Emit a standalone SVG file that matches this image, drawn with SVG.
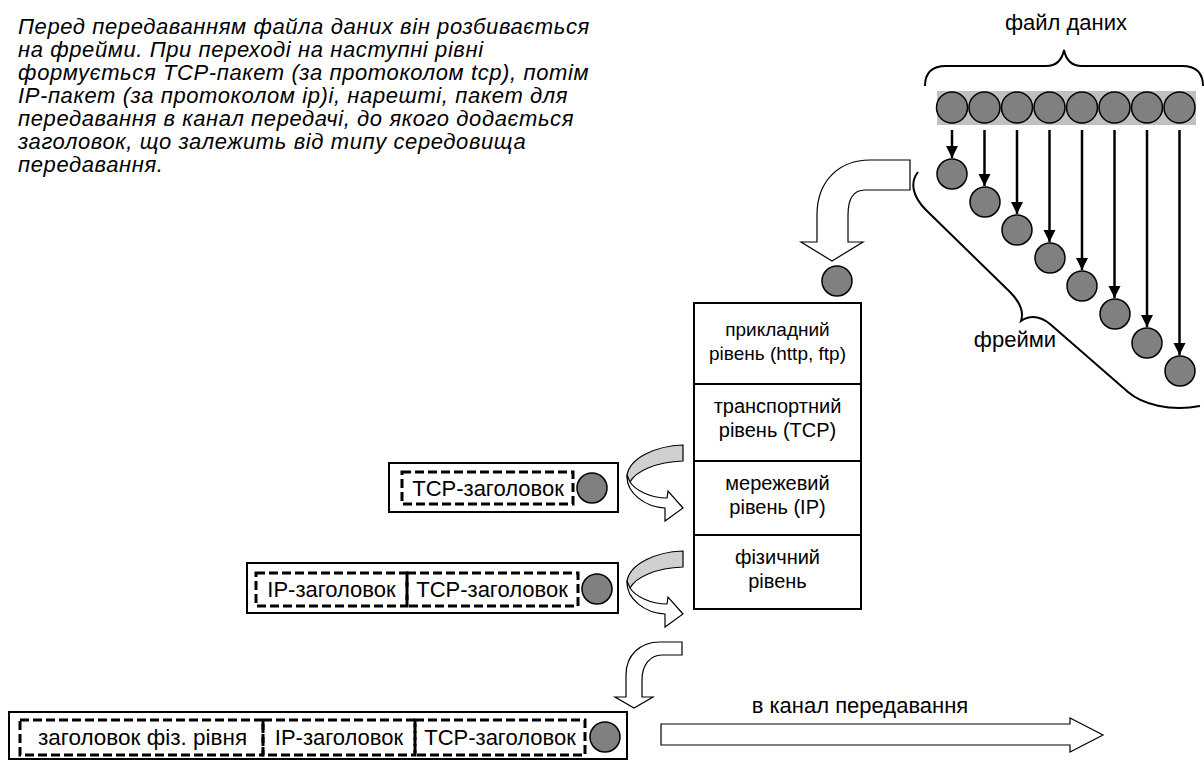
<svg xmlns="http://www.w3.org/2000/svg" width="1204" height="760" viewBox="0 0 1204 760">
  <style>
    text { font-family: "Liberation Sans", Arial, sans-serif; font-size: 22px; fill: #000; }
    .para { font-style: italic; letter-spacing: 0.6px; }
    .mid { text-anchor: middle; }
    .lyr { font-size: 20px; }
    .lyr-s { font-size: 19px; }
    .dot { fill: #808080; stroke: #000; stroke-width: 1.5; }
    .box { fill: #fff; stroke: #000; stroke-width: 2; }
    .dash { fill: none; stroke: #000; stroke-width: 3; stroke-dasharray: 9 4; }
    .layer { fill: #fff; stroke: #000; stroke-width: 2; }
    .brace { fill: none; stroke: #000; stroke-width: 2; }
    .flow { fill: #fff; stroke: #000; stroke-width: 1.2; stroke-linejoin: miter; }
    .back { fill: #d0d0d0; stroke: #000; stroke-width: 1.2; }
    .drop { stroke: #000; stroke-width: 2.5; fill: none; }
  </style>
  <defs>
    <marker id="head" markerUnits="userSpaceOnUse" markerWidth="14" markerHeight="14" refX="12" refY="6" orient="auto">
      <path d="M0,0 L12,6 L0,12 Z" fill="#000"/>
    </marker>
    <path id="twist-back" d="M683,445 C655,446 630,458 627,475 C627,478 628,480 630,482 C636,471 656,462 683,461 Z"/>
    <path id="twist-front" d="M627,475 C626,493 645,507 665,508 L665,521 L683,508 L668,491 L667,498 C650,498 635,490 630,482 Z"/>
  </defs>

  <!-- explanatory paragraph -->
  <g id="description">
    <text x="18" y="34" class="para">Перед передаванням файла даних він розбивається</text>
    <text x="18" y="57" class="para">на фрейми. При переході на наступні рівні</text>
    <text x="18" y="80" class="para">формується TCP-пакет (за протоколом tcp), потім</text>
    <text x="18" y="103" class="para">IP-пакет (за протоколом ip)і, нарешті, пакет для</text>
    <text x="18" y="126" class="para">передавання в канал передачі, до якого додається</text>
    <text x="18" y="149" class="para">заголовок, що залежить від типу середовища</text>
    <text x="18" y="172" class="para">передавання.</text>
  </g>

  <!-- the data file: a row of blocks under a brace -->
  <g id="data-file">
    <text x="1066" y="30" class="mid">файл даних</text>
    <path class="brace" d="M925,86 C925,72 932,66 946,66 L1046,66 C1056,66 1062,60 1064,50 C1066,60 1072,66 1082,66 L1182,66 C1196,66 1203,72 1203,86"/>
    <rect x="937" y="91" width="259" height="34" fill="#c0c0c0"/>
    <circle class="dot" cx="952" cy="107.5" r="15.5"/>
    <circle class="dot" cx="984.5" cy="107.5" r="15.5"/>
    <circle class="dot" cx="1017" cy="107.5" r="15.5"/>
    <circle class="dot" cx="1049.5" cy="107.5" r="15.5"/>
    <circle class="dot" cx="1082" cy="107.5" r="15.5"/>
    <circle class="dot" cx="1114.5" cy="107.5" r="15.5"/>
    <circle class="dot" cx="1147" cy="107.5" r="15.5"/>
    <circle class="dot" cx="1179.5" cy="107.5" r="15.5"/>
  </g>

  <!-- frames split off the file -->
  <g id="frames">
    <circle class="dot" cx="952" cy="174" r="15"/>
    <circle class="dot" cx="985" cy="202" r="15"/>
    <circle class="dot" cx="1017" cy="230" r="15"/>
    <circle class="dot" cx="1050" cy="258" r="15"/>
    <circle class="dot" cx="1082" cy="286" r="15"/>
    <circle class="dot" cx="1115" cy="314" r="15"/>
    <circle class="dot" cx="1147" cy="343" r="15"/>
    <circle class="dot" cx="1180" cy="371" r="15"/>
    <path class="brace" d="M918,172 C910,182 912,196 926,210 L1010,292 C1020,302 1024,312 1021,321 C1030,315 1040,316 1050,324 L1128,392 C1142,404 1170,412 1200,406"/>
    <text x="1015" y="347" class="mid">фрейми</text>
  </g>

  <!-- frame entering the stack -->
  <g id="frame-in">
    <circle class="dot" cx="837" cy="281" r="15"/>
  </g>

  <!-- protocol stack -->
  <g id="layer-application">
    <rect class="layer" x="694" y="303" width="167" height="81"/>
    <text x="777.5" y="336" class="mid lyr-s">прикладний</text>
    <text x="777.5" y="360" class="mid lyr-s">рівень (http, ftp)</text>
  </g>
  <g id="layer-transport">
    <rect class="layer" x="694" y="384" width="167" height="77"/>
    <text x="777.5" y="413" class="mid lyr">транспортний</text>
    <text x="777.5" y="437" class="mid lyr">рівень (TCP)</text>
  </g>
  <g id="layer-network">
    <rect class="layer" x="694" y="461" width="167" height="74"/>
    <text x="777.5" y="490" class="mid lyr">мережевий</text>
    <text x="777.5" y="514" class="mid lyr">рівень (IP)</text>
  </g>
  <g id="layer-physical">
    <rect class="layer" x="694" y="535" width="167" height="74"/>
    <text x="777.5" y="564" class="mid lyr">фізичний</text>
    <text x="777.5" y="588" class="mid lyr">рівень</text>
  </g>

  <!-- TCP packet -->
  <g id="packet-tcp">
    <rect class="box" x="389" y="463" width="229" height="49"/>
    <rect class="dash" x="402" y="472" width="171" height="32"/>
    <text x="488" y="496" class="mid">TCP-заголовок</text>
    <circle class="dot" cx="592" cy="488" r="15"/>
  </g>

  <!-- IP packet -->
  <g id="packet-ip">
    <rect class="box" x="247" y="563" width="371" height="50"/>
    <rect class="dash" x="256" y="573" width="151" height="33"/>
    <rect class="dash" x="407" y="573" width="171" height="33"/>
    <text x="331.5" y="597" class="mid">IP-заголовок</text>
    <text x="492" y="597" class="mid">TCP-заголовок</text>
    <circle class="dot" cx="597" cy="589" r="15"/>
  </g>

  <!-- frame for the physical medium -->
  <g id="packet-phys">
    <rect class="box" x="9" y="712" width="618" height="47"/>
    <rect class="dash" x="20" y="720" width="243" height="35"/>
    <rect class="dash" x="263" y="720" width="152" height="35"/>
    <rect class="dash" x="415" y="720" width="170" height="35"/>
    <text x="142.5" y="745" class="mid" style="font-size:22.5px">заголовок фіз. рівня</text>
    <text x="339" y="745" class="mid">IP-заголовок</text>
    <text x="500" y="745" class="mid">TCP-заголовок</text>
    <circle class="dot" cx="605" cy="737" r="15"/>
  </g>

  <!-- arrows -->
  <g id="connectors">
    <line class="drop" x1="952" y1="130" x2="952" y2="158" marker-end="url(#head)"/>
    <line class="drop" x1="984.5" y1="130" x2="984.5" y2="186" marker-end="url(#head)"/>
    <line class="drop" x1="1017" y1="130" x2="1017" y2="214" marker-end="url(#head)"/>
    <line class="drop" x1="1049.5" y1="130" x2="1049.5" y2="242" marker-end="url(#head)"/>
    <line class="drop" x1="1082" y1="130" x2="1082" y2="270" marker-end="url(#head)"/>
    <line class="drop" x1="1114.5" y1="130" x2="1114.5" y2="298" marker-end="url(#head)"/>
    <line class="drop" x1="1147" y1="130" x2="1147" y2="327" marker-end="url(#head)"/>
    <line class="drop" x1="1179.5" y1="130" x2="1179.5" y2="355" marker-end="url(#head)"/>

    <path class="flow" d="M910,160 L910,190 L865,190 C853,190 848,200 848,215 L848,242 L863,242 L832,261 L801,242 L817,242 L817,215 C817,180 840,160 870,160 Z"/>

    <use href="#twist-back" class="back"/>
    <use href="#twist-front" class="flow"/>
    <use href="#twist-back" class="back" transform="translate(0,106)"/>
    <use href="#twist-front" class="flow" transform="translate(0,106)"/>

    <path class="flow" d="M682,642 L682,655 L662,655 C650,655 642,665 642,680 L642,697 L653,697 L634,708 L615,697 L626,697 L626,675 C626,655 640,642 660,642 Z"/>

    <path class="flow" d="M661,724 L1070,724 L1070,718 L1103,735 L1070,752 L1070,745 L661,745 Z"/>
    <text x="860" y="713" class="mid">в канал передавання</text>
  </g>
</svg>
